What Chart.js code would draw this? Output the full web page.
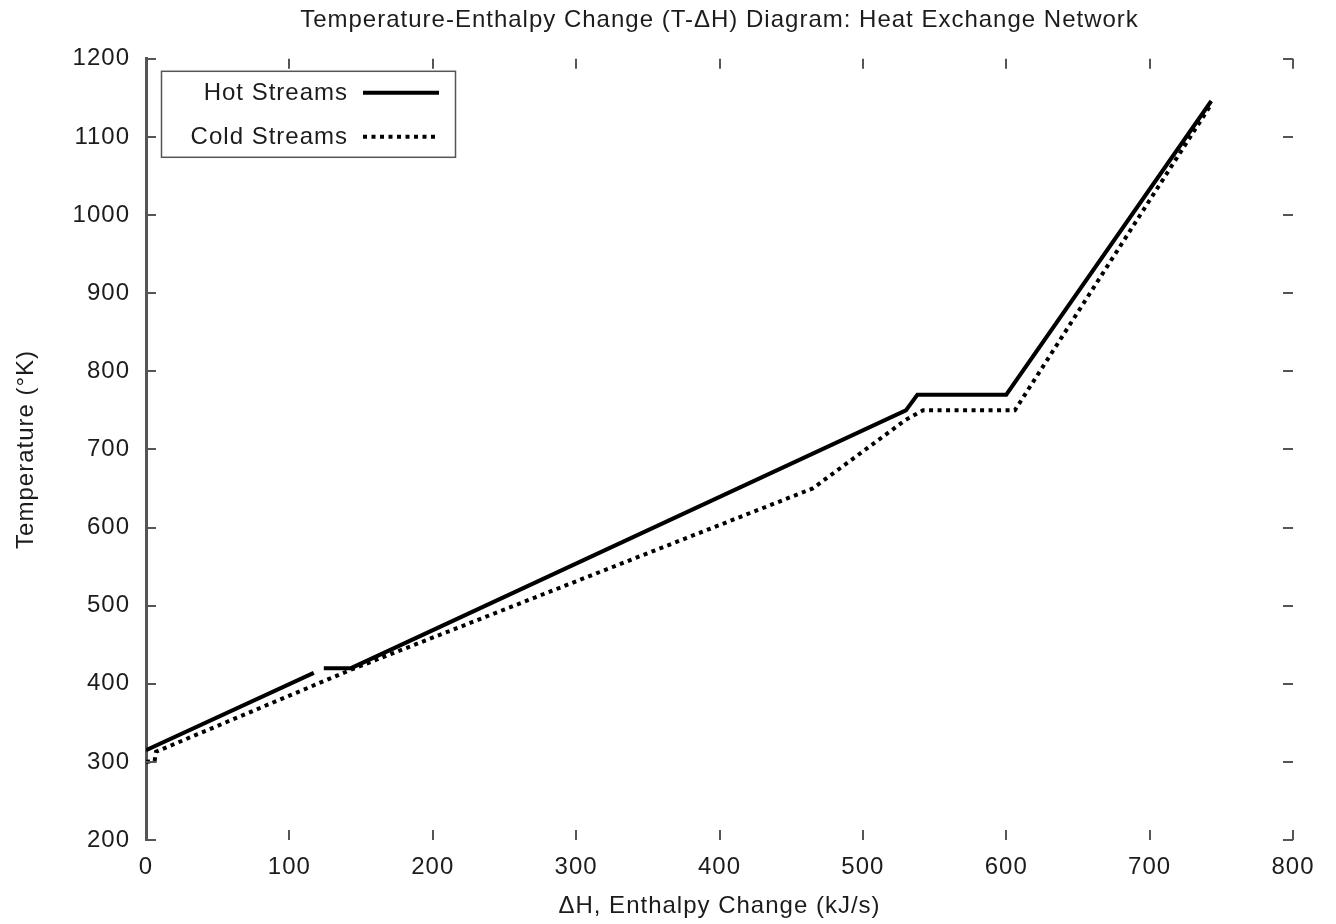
<!DOCTYPE html>
<html>
<head>
<meta charset="utf-8">
<title>T-ΔH Diagram</title>
<script src="https://cdn.jsdelivr.net/npm/chart.js@4/dist/chart.umd.min.js"></script>
<style>
  html, body { margin: 0; padding: 0; background: #ffffff; }
  #wrap { width: 1336px; height: 924px; }
</style>
</head>
<body>
<div id="wrap"><canvas id="c" width="1336" height="924"></canvas></div>
<script>
// Hot composite curve: enthalpy change (kJ/s) and temperature (K); null marks a break
const hotDH = [0, 117, 120, 124, 143, 530, 538, 600, 743];
const hotT  = [315, 414, null, 420, 420, 750, 770, 770, 1146];

// Cold composite curve
const coldDH = [0, 6, 7, 143, 465, 530, 542, 606, 742];
const coldT  = [300, 301, 313, 418, 650, 738, 750, 750, 1139];

// Axis ticks
const xTicks = [0, 100, 200, 300, 400, 500, 600, 700, 800];
const yTicks = [200, 300, 400, 500, 600, 700, 800, 900, 1000, 1100, 1200];

const titleText = 'Temperature-Enthalpy Change (T-\u0394H) Diagram: Heat Exchange Network';
const xTitle = '\u0394H, Enthalpy Change (kJ/s)';
const yTitle = 'Temperature (\u00b0K)';
const seriesNames = ['Hot Streams', 'Cold Streams'];

const FONT = '"Liberation Sans", Arial, Helvetica, sans-serif';
const TEXT = '#1c1c1c';
const AXIS = '#555555';

const toPoints = (xs, ys) => xs.map((x, i) => ({ x: x, y: ys[i] }));

// Slightly airy lettering for all canvas text
const textSpacing = {
  id: 'textSpacing',
  beforeUpdate(chart) { if ('letterSpacing' in chart.ctx) chart.ctx.letterSpacing = '1px'; },
  beforeDraw(chart) { if ('letterSpacing' in chart.ctx) chart.ctx.letterSpacing = '1px'; }
};

// Inward tick marks on all four sides, mirrored top and right
const tickMarks = {
  id: 'tickMarks',
  afterDraw(chart) {
    const { ctx, chartArea: a, scales } = chart;
    const len = 10;
    ctx.save();
    ctx.strokeStyle = AXIS;
    ctx.lineWidth = 2;
    ctx.lineCap = 'butt';
    ctx.beginPath();
    xTicks.forEach(v => {
      const px = Math.round(scales.x.getPixelForValue(v));
      ctx.moveTo(px, a.bottom); ctx.lineTo(px, a.bottom - len);
      ctx.moveTo(px, a.top);    ctx.lineTo(px, a.top + len);
    });
    yTicks.forEach(v => {
      const py = Math.round(scales.y.getPixelForValue(v));
      ctx.moveTo(a.left, py);  ctx.lineTo(a.left + len, py);
      ctx.moveTo(a.right, py); ctx.lineTo(a.right - len, py);
    });
    ctx.stroke();
    ctx.restore();
  }
};

// Boxed key with right-aligned labels and line samples on the right
const boxedKey = {
  id: 'boxedKey',
  afterDraw(chart) {
    const { ctx, chartArea: a } = chart;
    const x0 = a.left + 15, y0 = a.top + 12, w = 294, h = 86;
    ctx.save();
    ctx.fillStyle = '#ffffff';
    ctx.fillRect(x0, y0, w, h);
    ctx.strokeStyle = AXIS;
    ctx.lineWidth = 1.5;
    ctx.strokeRect(x0 + 0.5, y0 + 0.5, w, h);
    ctx.font = '24px ' + FONT;
    ctx.fillStyle = TEXT;
    ctx.textAlign = 'right';
    ctx.textBaseline = 'middle';
    chart.data.datasets.forEach((ds, i) => {
      const cy = y0 + 22 + i * 44;
      ctx.fillText(ds.label, x0 + 187, cy + 1);
      ctx.strokeStyle = ds.borderColor;
      ctx.lineWidth = ds.borderWidth;
      ctx.lineCap = 'butt';
      ctx.setLineDash(ds.borderDash || []);
      ctx.beginPath();
      ctx.moveTo(x0 + 202, cy);
      ctx.lineTo(x0 + 278, cy);
      ctx.stroke();
      ctx.setLineDash([]);
    });
    ctx.restore();
  }
};

new Chart(document.getElementById('c'), {
  type: 'line',
  data: {
    datasets: [
      {
        label: seriesNames[0],
        data: toPoints(hotDH, hotT),
        borderColor: '#000000',
        borderWidth: 4,
        borderJoinStyle: 'miter',
        borderCapStyle: 'butt',
        pointRadius: 0,
        fill: false,
        tension: 0,
        spanGaps: false
      },
      {
        label: seriesNames[1],
        data: toPoints(coldDH, coldT),
        borderColor: '#000000',
        borderWidth: 4,
        borderDash: [4, 4.5],
        borderCapStyle: 'butt',
        borderJoinStyle: 'miter',
        pointRadius: 0,
        fill: false,
        tension: 0
      }
    ]
  },
  options: {
    responsive: false,
    animation: false,
    events: [],
    layout: { padding: { left: 0, right: 43, top: 0, bottom: 0 } },
    plugins: {
      legend: { display: false },
      tooltip: { enabled: false },
      title: {
        display: true,
        fullSize: false,
        text: titleText,
        color: TEXT,
        font: { family: FONT, size: 24, weight: 'normal' },
        padding: { top: 6, bottom: 24 }
      }
    },
    scales: {
      x: {
        type: 'linear',
        min: xTicks[0],
        max: xTicks[xTicks.length - 1],
        afterFit(scale) { scale.height = 84; },
        ticks: {
          stepSize: 100,
          color: TEXT,
          padding: 13,
          maxRotation: 0,
          font: { family: FONT, size: 24 },
          callback: v => String(v)
        },
        grid: { display: false, drawTicks: false },
        border: { display: false },
        title: {
          display: true,
          text: xTitle,
          color: TEXT,
          font: { family: FONT, size: 24 },
          padding: { top: 0, bottom: 3 }
        }
      },
      y: {
        type: 'linear',
        min: yTicks[0],
        max: yTicks[yTicks.length - 1],
        afterFit(scale) { scale.width = 146; },
        ticks: {
          stepSize: 100,
          color: TEXT,
          padding: 16,
          font: { family: FONT, size: 24 },
          callback: v => String(v)
        },
        grid: { display: false, drawTicks: false },
        border: { display: true, color: AXIS, width: 3 },
        title: {
          display: true,
          text: yTitle,
          color: TEXT,
          font: { family: FONT, size: 24 },
          padding: { top: 12, bottom: 0 }
        }
      }
    }
  },
  plugins: [textSpacing, tickMarks, boxedKey]
});
</script>
</body>
</html>
